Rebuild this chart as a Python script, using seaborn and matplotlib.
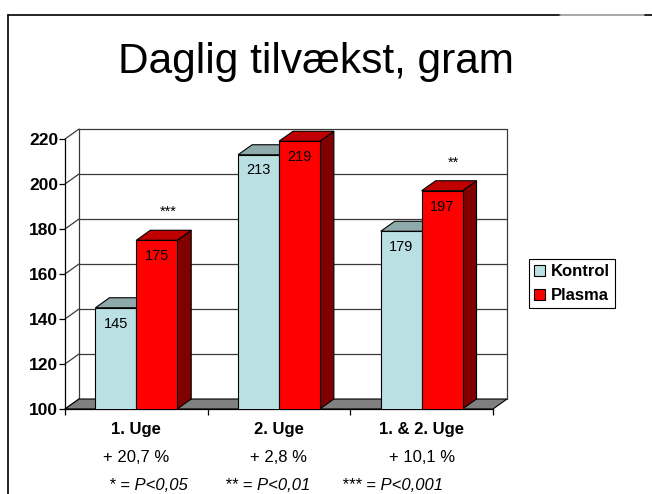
import matplotlib
matplotlib.use("Agg")
import matplotlib.pyplot as plt
import pandas as pd
import seaborn as sns
from matplotlib.lines import Line2D
from matplotlib.patches import Patch, Polygon, Rectangle
from matplotlib.transforms import blended_transform_factory

# Data
categories = ["1. Uge", "2. Uge", "1. & 2. Uge"]
groups = ["Kontrol", "Plasma"]
kontrol = [145, 213, 179]
plasma = [175, 219, 197]
stars = ["***", "", "**"]
increase = ["+ 20,7 %", "+ 2,8 %", "+ 10,1 %"]
p_notes = ["* = P<0,05", "** = P<0,01", "*** = P<0,001"]
y_ticks = [100, 120, 140, 160, 180, 200, 220]

df = pd.DataFrame({
    "kategori": categories * 2,
    "gruppe": ["Kontrol"] * 3 + ["Plasma"] * 3,
    "gram": kontrol + plasma,
})

front = {"Kontrol": "#bbe0e3", "Plasma": "#ff0000"}
top = {"Kontrol": "#8faaab", "Plasma": "#c00000"}
side = {"Kontrol": "#6e8f91", "Plasma": "#800000"}

sns.set_style("white")
plt.rcParams["font.family"] = ["Liberation Sans", "DejaVu Sans"]
plt.rcParams.update({"text.color": "black", "axes.labelcolor": "black",
                     "xtick.color": "black", "ytick.color": "black"})

W, H, DPI = 652, 494, 100
fig = plt.figure(figsize=(W / DPI, H / DPI), dpi=DPI)
ax = fig.add_axes([65 / W, 1 - 409 / H, 428 / W, 270 / H])

sns.barplot(data=df, x="kategori", y="gram", hue="gruppe", order=categories,
            hue_order=groups, palette=front, width=0.573, edgecolor="black",
            linewidth=0.8, saturation=1, legend=False, ax=ax)

ax.set_xlim(-0.5, 2.5)
ax.set_ylim(100, 220)
ax.patch.set_visible(False)

# depth of the 3D effect, 14 px right and 10 px up, in data units
inv = ax.transData.inverted()
p0 = ax.transData.transform((0, 100))
dx, dy = inv.transform(p0 + [14, 10]) - [0, 100]

xl, xr = -0.5, 2.5
yb, yt = y_ticks[0], y_ticks[-1]
wall = dict(color="#3a3a3a", lw=0.9, clip_on=False, zorder=1)

# back wall grid + left side wall diagonals
for v in y_ticks[1:]:
    ax.plot([xl + dx, xr + dx], [v + dy, v + dy], **wall)
for v in y_ticks:
    ax.plot([xl, xl + dx], [v, v + dy], **wall)
ax.plot([xl + dx, xl + dx], [yb + dy, yt + dy], **wall)
ax.plot([xr + dx, xr + dx], [yb + dy, yt + dy], **wall)

# floor
ax.add_patch(Polygon([(xl, yb), (xr, yb), (xr + dx, yb + dy), (xl + dx, yb + dy)],
                     closed=True, fc="#808080", ec="black", lw=0.8,
                     clip_on=False, zorder=1.5))

# 3D tops and sides for each bar
bars = [p for p in ax.patches if isinstance(p, Rectangle)]
for i, p in enumerate(bars):
    g = groups[i // 3]
    z = 3 + i // 3
    x0, w, h = p.get_x(), p.get_width(), p.get_height()
    p.set_zorder(z + 0.2)
    ax.add_patch(Polygon([(x0 + w, yb), (x0 + w + dx, yb + dy),
                          (x0 + w + dx, h + dy), (x0 + w, h)],
                         closed=True, fc=side[g], ec="black", lw=0.8,
                         clip_on=False, zorder=z))
    ax.add_patch(Polygon([(x0, h), (x0 + w, h), (x0 + w + dx, h + dy), (x0 + dx, h + dy)],
                         closed=True, fc=top[g], ec="black", lw=0.8,
                         clip_on=False, zorder=z))
    ax.text(x0 + w / 2, h - 7, f"{h:.0f}", ha="center", va="center",
            fontsize=10.5, zorder=7)
    if g == "Plasma" and stars[i % 3]:
        ax.text(x0 + w / 2 + dx * 0.8, h + dy + 8, stars[i % 3],
                ha="center", va="center", fontsize=10.5, zorder=7)

# axes styling
for s in ["top", "right"]:
    ax.spines[s].set_visible(False)
for s in ["left", "bottom"]:
    ax.spines[s].set_color("black")
    ax.spines[s].set_linewidth(0.9)
ax.set_yticks(y_ticks)
ax.tick_params(axis="y", direction="out", length=4, width=0.9, pad=1,
               left=True, labelsize=12.5)
for lab in ax.get_yticklabels():
    lab.set_fontweight("bold")
ax.set_xticks([-0.5, 0.5, 1.5, 2.5], minor=True)
ax.tick_params(axis="x", which="minor", direction="out", length=4, width=0.9, bottom=True)
ax.tick_params(axis="x", which="major", length=0, pad=9, labelsize=12)
for lab in ax.get_xticklabels():
    lab.set_fontweight("bold")
ax.set_xlabel("")
ax.set_ylabel("")

# percentage lines under categories
tr = blended_transform_factory(ax.transData, fig.transFigure)
for i, txt in enumerate(increase):
    ax.text(i, 1 - 457 / H, txt, transform=tr, ha="center", va="center",
            fontsize=12, clip_on=False)

# significance key
for xp, txt in zip([148, 268, 393], p_notes):
    fig.text(xp / W, 1 - 485 / H, txt, ha="center", va="center",
             fontsize=12, style="italic")

# legend
handles = [Patch(fc=front[g], ec="black", lw=0.8) for g in groups]
fig.legend(handles, groups, loc="upper left", bbox_to_anchor=(529 / W, 1 - 259 / H),
           fancybox=False, edgecolor="black", framealpha=1, borderaxespad=0,
           prop={"weight": "bold", "size": 12}, handlelength=0.65,
           handleheight=0.65, handletextpad=0.35, borderpad=0.3,
           labelspacing=0.55).get_frame().set_linewidth(0.8)

# title
fig.text(316 / W, 1 - 73 / H, "Daglig tilvækst, gram", ha="center",
         va="baseline", fontsize=30.5)

# slide frame
ln = dict(transform=fig.transFigure, lw=1.2)
fig.add_artist(Line2D([8 / W, 560 / W], [1 - 15 / H] * 2, color="black", **ln))
fig.add_artist(Line2D([560 / W, 645 / W], [1 - 15 / H] * 2, color="#999999", **ln))
fig.add_artist(Line2D([645 / W, 1], [1 - 15 / H] * 2, color="black", **ln))
fig.add_artist(Line2D([8 / W, 8 / W], [0, 1 - 15 / H], color="black", **ln))

fig.savefig("out.png", dpi=DPI, facecolor="white")
